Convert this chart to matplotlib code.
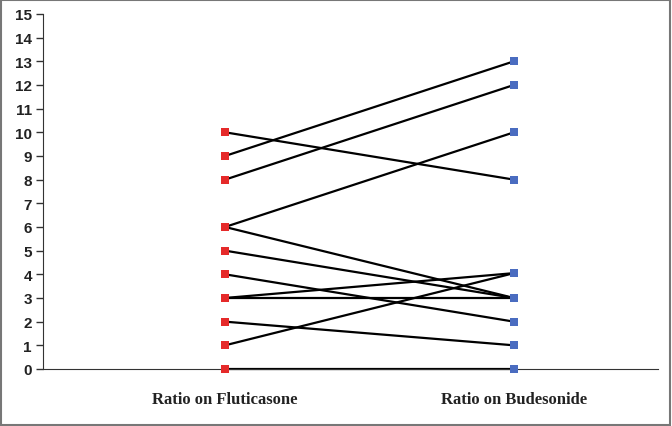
import matplotlib
matplotlib.use("Agg")
import matplotlib.pyplot as plt
from matplotlib.patches import Rectangle

categories = ["Ratio on Fluticasone", "Ratio on Budesonide"]
fluticasone = [10, 9, 8, 6, 6, 5, 4, 3, 3, 2, 1, 0]
budesonide = [8, 13, 12, 10, 3, 3, 2, 4.05, 3, 1, 4.05, 0]
yticks = list(range(0, 16))

fig = plt.figure(figsize=(6.72, 4.27), dpi=100)
ax = fig.add_axes([0.064, 0.1335, 0.915, 0.8315])
xs = [1, 2]
for a, b in zip(fluticasone, budesonide):
    ax.plot(xs, [a, b], color="black", lw=1.6, zorder=2, solid_capstyle="butt", clip_on=False)
ax.scatter([1] * len(fluticasone), fluticasone, marker="s", s=32, color="#e52a2a",
           zorder=3, linewidths=0, clip_on=False)
ax.scatter([2] * len(budesonide), budesonide, marker="s", s=32, color="#4a6cc0",
           zorder=3, linewidths=0, clip_on=False)

ax.set_xlim(0.37, 2.498)
ax.set_ylim(0, 15)
ax.set_yticks(yticks)
ax.set_yticklabels([str(t) for t in yticks], fontsize=11, fontweight="bold",
                   family=["Liberation Sans", "DejaVu Sans"], color="#222222")
ax.set_xticks([])
for s in ["top", "right"]:
    ax.spines[s].set_visible(False)
ax.spines["left"].set_color("#333333")
ax.spines["bottom"].set_color("#333333")
ax.tick_params(axis="y", length=5, width=1, color="#333333", pad=3)
for x, lab in zip(xs, categories):
    ax.text(x, -1.25, lab, ha="center", va="center", fontsize=12, fontweight="bold",
            family=["Liberation Serif", "DejaVu Serif"], color="#222222")

fig.patches.append(Rectangle((0.002, 0.003), 0.995, 0.994, transform=fig.transFigure,
                             fill=False, edgecolor="#777777", lw=1.5))
fig.savefig("out.png", dpi=100)
